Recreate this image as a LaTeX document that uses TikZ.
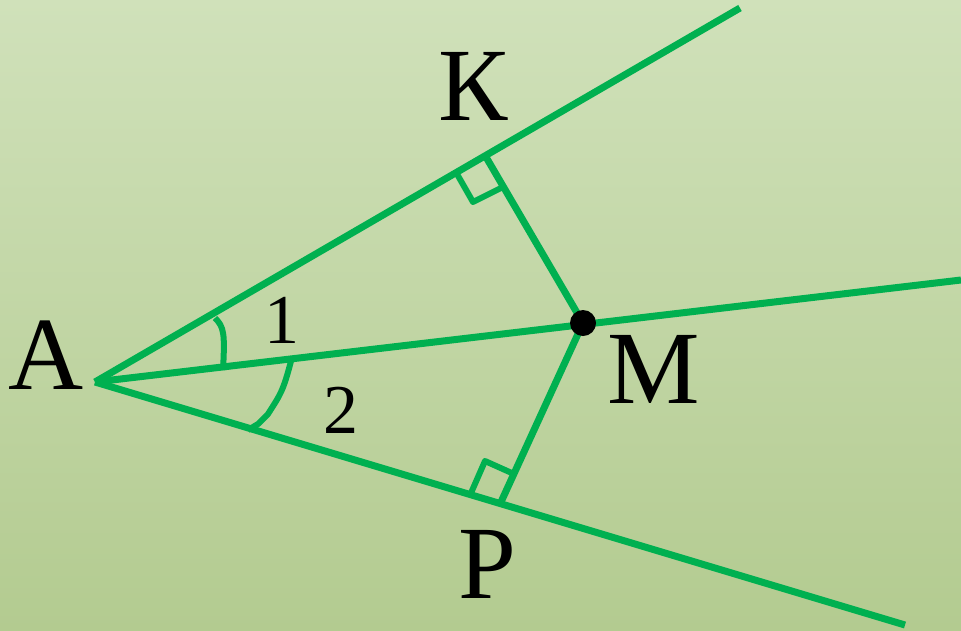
\documentclass[tikz,border=0pt]{standalone}
\usepackage{fontspec}
\setmainfont{Liberation Serif}
\definecolor{bgtop}{HTML}{D0E1BA}
\definecolor{bgbot}{HTML}{B3CB90}
\definecolor{ln}{HTML}{00B050}
\begin{document}
\begin{tikzpicture}[x=1pt,y=-1pt,
  ray/.style={draw=ln,line width=7pt},
  anglemark/.style={draw=ln,line width=6pt,line join=round},
  lbl/.style={anchor=base,inner sep=0pt,font=\fontsize{104}{110}\selectfont},
  num/.style={anchor=base,inner sep=0pt,font=\fontsize{70}{76}\selectfont}]
\shade[top color=bgtop,bottom color=bgbot] (0,0) rectangle (961,630);
\useasboundingbox (0,0) rectangle (961,630);
\coordinate (A) at (95,382);
\coordinate (U) at (740,8);
\coordinate (B) at (961,280);
\coordinate (L) at (905,625);
\coordinate (M) at (583,323);
\coordinate (K) at (486,157);
\coordinate (P) at (501,502);
% rays
\draw[ray] (A) -- (U);
\draw[ray] (A) -- (B);
\draw[ray] (A) -- (L);
% perpendiculars
\draw[ray] (M) -- (K);
\draw[ray] (M) -- (P);
% right angle marks
\draw[anglemark] (457,174) -- (473,202) -- (501,188);
\draw[anglemark] (471,493) -- (485,461) -- (514,474);
% angle marks
\draw[anglemark] (215,318) .. controls (224,327) and (225,333) .. (223,370);
\draw[anglemark] (291,361) .. controls (283,392) and (280,395) .. (268,414) -- (258,424) -- (248,430);
% point M
\fill[black] (M) circle (13);
% labels
\node[lbl] (tK) at (473,120) {К};
\node[lbl] (tA) at (46,389) {А};
\node[lbl] (tM) at (654,403) {М};
\node[lbl] (tP) at (487,598) {Р};
\node[num] (t1) at (282,343) {1};
\node[num] (t2) at (341,433) {2};
\end{tikzpicture}
\end{document}
